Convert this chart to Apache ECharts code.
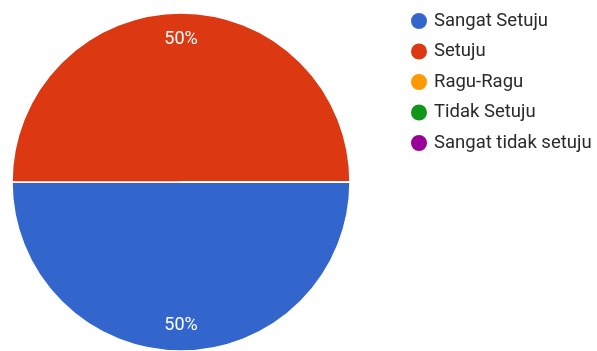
<!DOCTYPE html>
<html><head><meta charset="utf-8">
<script src="https://cdn.jsdelivr.net/npm/echarts@6/dist/echarts.min.js"></script>
<style>html,body{margin:0;padding:0;background:#fff}#c{width:597px;height:351px}</style>
</head><body><div id="c"></div>
<script>
const categories = ['Sangat Setuju', 'Setuju', 'Ragu-Ragu', 'Tidak Setuju', 'Sangat tidak setuju'];
const values = [50, 50, 0, 0, 0];
const colors = ['#3366CC', '#DC3912', '#FF9900', '#109618', '#990099'];

const data = categories.map((n, i) => ({ name: n, value: values[i] }));
const chart = echarts.init(document.getElementById('c'));
chart.setOption({
  animation: false,
  color: colors,
  legend: {
    orient: 'vertical', left: 409, top: 11, padding: 0,
    icon: 'circle', itemWidth: 18, itemHeight: 18, itemGap: 10.5,
    textStyle: { fontFamily: 'Roboto', fontSize: 18.5, color: '#2a2a2a', padding: [0, 0, 0, 1] },
    data: categories
  },
  series: [{
    type: 'pie', center: [181, 182], radius: [0, 169],
    startAngle: 0, clockwise: true,
    data: data,
    itemStyle: { borderColor: '#fff', borderWidth: 1.5 },
    label: { show: false }, labelLine: { show: false },
    silent: true
  }, {
    type: 'pie', center: [181, 182], radius: [111, 169],
    startAngle: 0, clockwise: true,
    data: data,
    itemStyle: { color: 'rgba(0,0,0,0)' },
    label: {
      show: true, position: 'inside', formatter: p => p.value > 0 ? p.value + '%' : '',
      fontFamily: 'Roboto', fontSize: 18, color: '#fff'
    },
    labelLine: { show: false },
    silent: true, legendHoverLink: false
  }]
});
</script></body></html>
